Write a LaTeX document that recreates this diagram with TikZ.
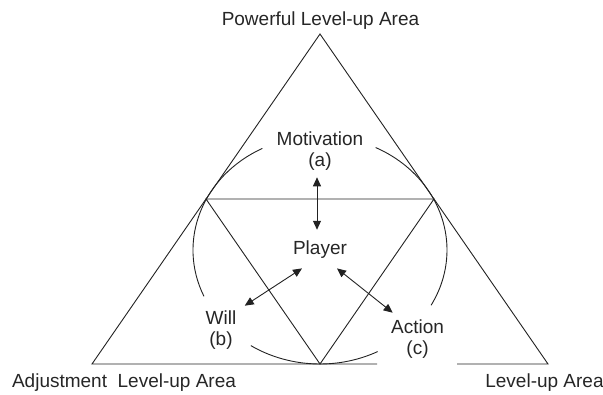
\documentclass[tikz,border=0pt]{standalone}
\usepackage{fontspec}
\setmainfont{Liberation Sans}
\usetikzlibrary{arrows.meta}
\usepackage{xcolor}
\definecolor{ink}{HTML}{222222}
\definecolor{txt}{HTML}{262626}

\begin{document}
\begin{tikzpicture}[x=1pt,y=1pt,line width=0.9pt,
  lbl/.style={text=txt,font=\fontsize{19}{21}\selectfont,align=center,inner sep=2pt},
  twoway/.style={{Triangle[length=9pt,width=8pt]}-{Triangle[length=9pt,width=8pt]},draw=ink}]
\useasboundingbox (0,0) rectangle (603,394);
%% corners of the big triangle, midpoints of its sides and the two ends of the gap in the base
\coordinate (apex) at (320,360);
\coordinate (bl) at (92,30);
\coordinate (br) at (548,30);
\coordinate (ml) at (206,195);
\coordinate (mr) at (434,195);
\coordinate (mb) at (320,30);
\coordinate (gapl) at (377,30);
\coordinate (gapr) at (457,30);
\coordinate (ctr) at (320,144);
%% big triangle (base is broken below Action) and the inner one
\draw[ink] (gapl) -- (bl) -- (apex) -- (br) -- (gapr);
\draw[ink] (ml) -- (mr) -- (mb) -- cycle;
%% the oval round the inner triangle, in three pieces
\draw[ink] (ctr) ++(117:127 and 114) arc[start angle=117,end angle=204,x radius=127,y radius=114];
\draw[ink] (ctr) ++(237:127 and 114) arc[start angle=237,end angle=297,x radius=127,y radius=114];
\draw[ink] (ctr) ++(-29:127 and 114) arc[start angle=-29,end angle=64,x radius=127,y radius=114];
%% labels
\node[lbl,anchor=base] (powerful) at (320.5,368) {Powerful Level-up Area};
\node[lbl,anchor=base] (adjust) at (124,6) {Adjustment\ \ Level-up Area};
\node[lbl,anchor=base] (levelup) at (544.5,6) {Level-up Area};
\node[lbl] (motiv) at (320,242.5) {Motivation\\(a)};
\node[lbl,anchor=base] (player) at (320,139) {Player};
\node[lbl] (will) at (221,63.5) {Will\\(b)};
\node[lbl] (action) at (417.5,54.5) {Action\\(c)};
%% arrows to and from the player
\draw[twoway] ([xshift=-3pt,yshift=-4pt]motiv.south) -- ([xshift=-3pt,yshift=9pt]player.north);
\draw[twoway] ([shift={(-18pt,-7pt)}]player.south) -- ([shift={(6pt,3pt)}]will.north east);
\draw[twoway] ([shift={(17pt,-7pt)}]player.south) -- ([shift={(4pt,5pt)}]action.north west);
\end{tikzpicture}
\end{document}
